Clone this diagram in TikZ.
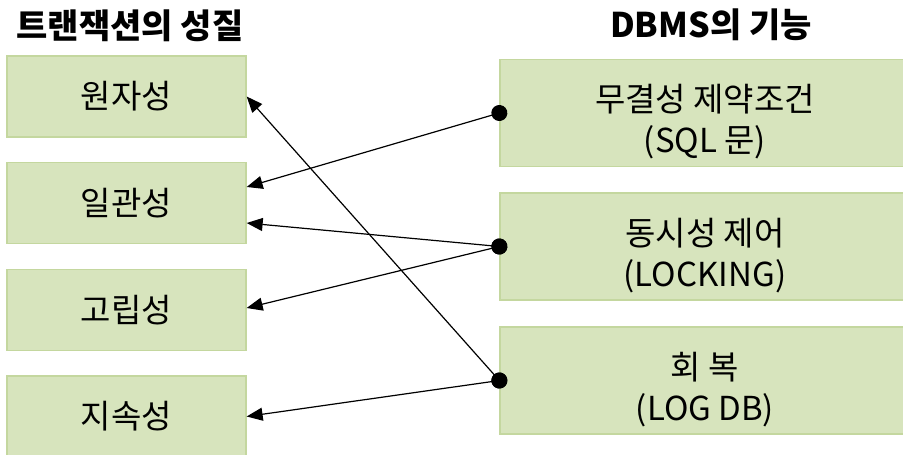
\documentclass[tikz,border=0pt]{standalone}
\usepackage{fontspec}
\setmainfont{Noto Sans CJK KR}
\usetikzlibrary{arrows.meta}
\definecolor{boxfill}{HTML}{D7E4BD}
\definecolor{boxline}{HTML}{C4D79F}
\begin{document}
\begin{tikzpicture}[x=1pt,y=-1pt,
  lbox/.style={draw=boxline,line width=1.3pt,fill=boxfill,minimum width=239pt,minimum height=81pt,inner sep=0pt,font=\fontsize{33}{38}\selectfont},
  rbox/.style={draw=boxline,line width=1.3pt,fill=boxfill,minimum width=410pt,minimum height=107pt,inner sep=0pt,
    label={[align=center,font=\fontsize{33}{41}\selectfont,yshift=-9pt]center:#1}},
  ttl/.style={font=\fontsize{34}{40}\selectfont\bfseries},
  link/.style={line width=1.2pt,shorten <=-8pt,{Circle[length=16pt]}-{Triangle[length=16pt,width=13pt]}}]
\useasboundingbox (0,0) rectangle (903,455);
\node[ttl] (t1) at (130,26) {트랜잭션의 성질};
\node[ttl] (t2) at (711,25) {DBMS의 기능};
\node[lbox] (L1) at (126.5,96.5) {원자성};
\node[lbox] (L2) at (126.5,203) {일관성};
\node[lbox] (L3) at (126.5,310) {고립성};
\node[lbox] (L4) at (126.5,416.5) {지속성};
\node[rbox={무결성 제약조건\\(SQL 문)}] (R1) at (705,113) {};
\node[rbox={동시성 제어\\(LOCKING)}] (R2) at (705,246.5) {};
\node[rbox={회 복\\(LOG DB)}] (R3) at (705,380.5) {};
\draw[link] (R1.west) -- ([yshift=16pt]L2.east);
\draw[link] (R2.west) -- ([yshift=-20pt]L2.east);
\draw[link] (R2.west) -- ([yshift=2pt]L3.east);
\draw[link] (R3.west) -- ([yshift=0pt]L1.east);
\draw[link] (R3.west) -- ([yshift=0pt]L4.east);
\end{tikzpicture}
\end{document}
